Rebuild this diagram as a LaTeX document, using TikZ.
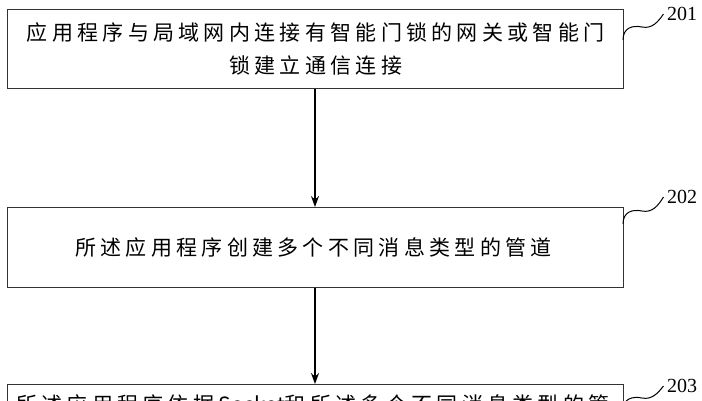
\documentclass[tikz,border=0pt]{standalone}
\usepackage{fontspec}
\setmainfont{Liberation Serif}
\newfontfamily\cjk{Noto Sans CJK SC}
\usetikzlibrary{arrows.meta}
\makeatletter
\def\lsp#1{\lsA#1\relax}
\def\lsA#1{\ifx#1\relax\else#1\hspace{4.3pt}\expandafter\lsA\fi}
\makeatother
\tikzset{
 stepbox/.style={draw=black!80, line width=1.3pt, minimum width=616pt, anchor=north west, inner sep=0pt},
 txt/.style={font=\cjk\fontsize{21pt}{33pt}\selectfont, align=center},
 arr/.style={-{Stealth[length=11pt,width=8pt]}, line width=1.2pt},
 sq/.style={line width=1pt},
 lab/.style={font=\fontsize{20pt}{20pt}\selectfont}
}
\begin{document}
\begin{tikzpicture}[x=1pt,y=-1pt]
\useasboundingbox (0,0) rectangle (702,400);
\clip (0,0) rectangle (702,400);
\node[stepbox, minimum height=79pt] (b1) at (7,9) {};
\node[txt] (t1) at (b1.center) {\lsp{应用程序与局域网内连接有智能门锁的网关或智能门}\\\lsp{锁建立通信连接}};
\node[stepbox, minimum height=80pt] (b2) at (7,207) {};
\node[txt] (t2) at (b2.center) {\lsp{所述应用程序创建多个不同消息类型的管道}};
\node[stepbox, minimum height=80pt] (b3) at (7,384) {};
\node[txt, anchor=north] (t3) at (315,391) {\lsp{所述应用程序依据}Socket\lsp{和所述多个不同消息类型的管}};
\coordinate (a1) at (315,88);
\draw[arr] (b1.south -| a1) -- (b2.north -| a1);
\draw[arr] (b2.south -| a1) -- (b3.north -| a1);
\node[lab] (l1) at (682,14) {201};
\node[lab] (l2) at (682,197) {202};
\node[lab] (l3) at (682,386) {203};
\coordinate (s1) at (623,40);
\draw[sq] (s1) .. controls (623,28) and (632,25) .. (642,27) .. controls (652,29) and (658,22) .. (l1.west);
\coordinate (s2) at (623,224);
\draw[sq] (s2) .. controls (623,212) and (632,209) .. (642,211) .. controls (652,213) and (658,206) .. (l2.west);
\coordinate (s3) at (623,410);
\draw[sq] (s3) .. controls (623,399) and (632,396) .. (642,398) .. controls (652,400) and (658,393) .. (l3.west);
\end{tikzpicture}
\end{document}
